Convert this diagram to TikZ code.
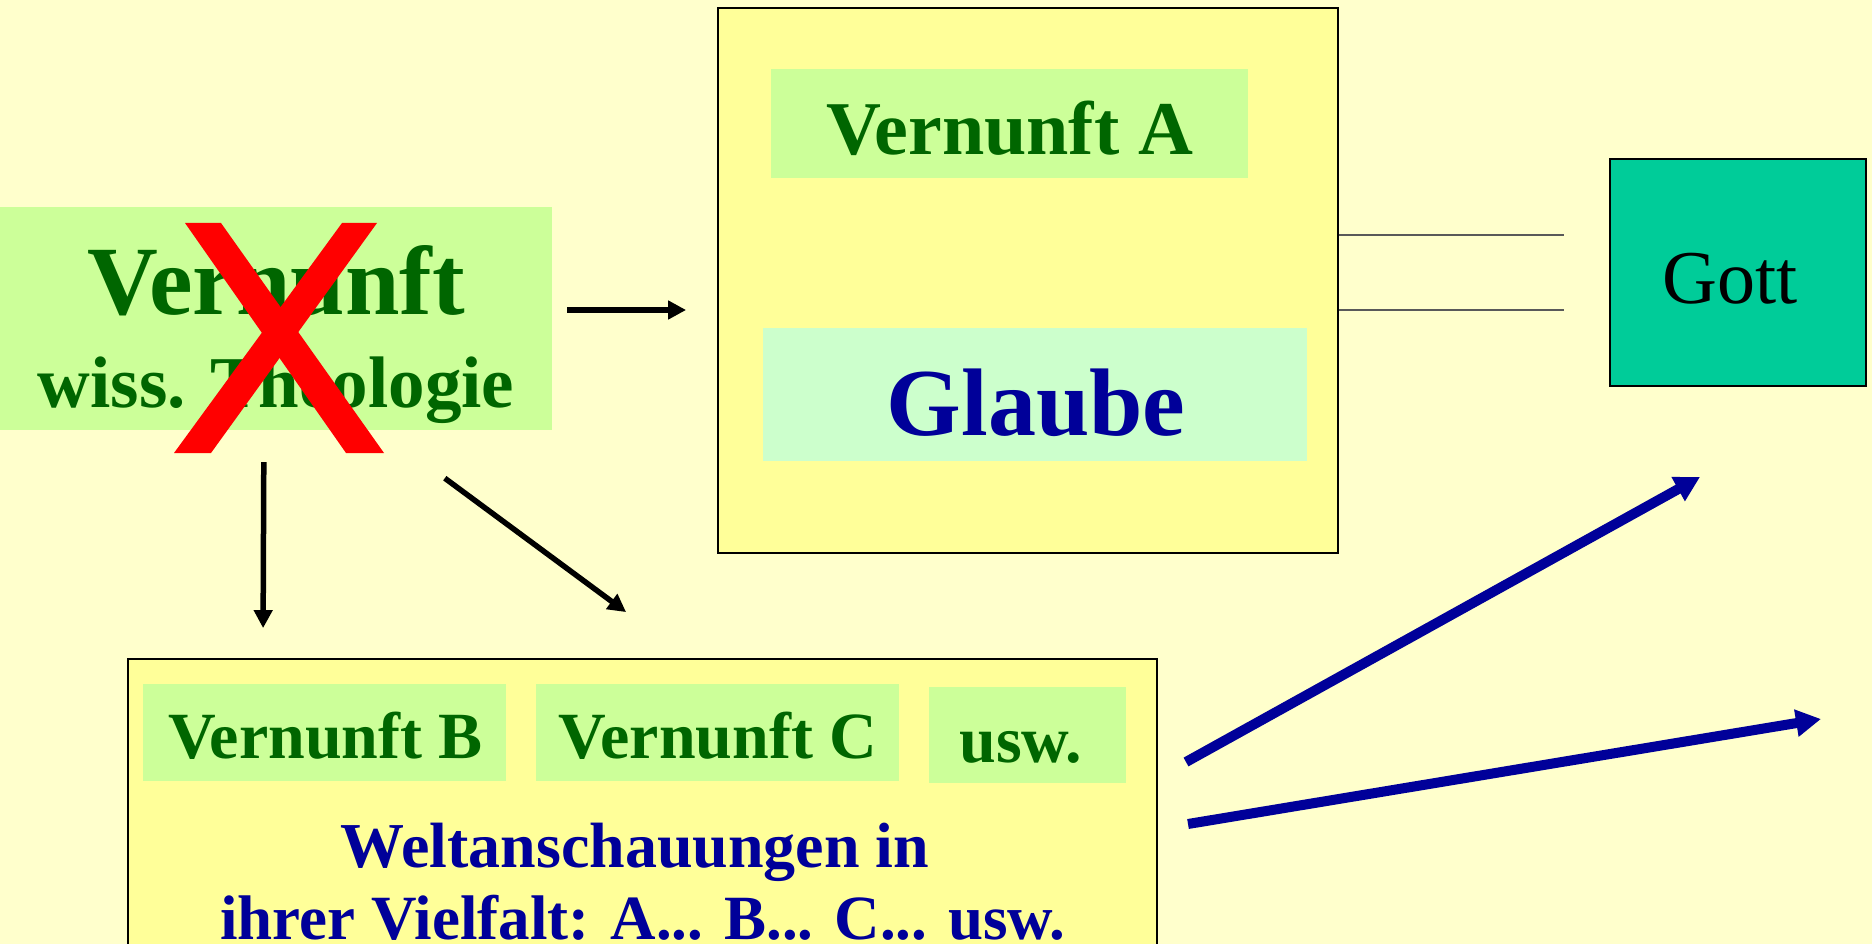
\documentclass[tikz,border=0pt]{standalone}
\usepackage{fontspec}
\setmainfont{Liberation Serif}
\usetikzlibrary{calc,arrows.meta}
\definecolor{slidebg}{HTML}{FFFFCC}
\definecolor{boxyellow}{HTML}{FFFF99}
\definecolor{reasongreen}{HTML}{CCFF99}
\definecolor{faithgreen}{HTML}{CCFFCC}
\definecolor{darkgreen}{HTML}{006600}
\definecolor{darkblue}{HTML}{000099}
\definecolor{godgreen}{HTML}{00CC99}

\begin{document}
\begin{tikzpicture}[x=1pt,y=-1pt,
    panel/.style={draw=black,line width=1.8pt,fill=boxyellow,inner sep=0pt},
    reason/.style={fill=reasongreen,inner sep=0pt},
    gtxt/.style={inner sep=0pt,anchor=base,text=darkgreen,font=\bfseries\fontsize{#1}{#1}\selectfont},
    btxt/.style={inner sep=0pt,anchor=base,text=darkblue,font=\bfseries\fontsize{#1}{#1}\selectfont},
    flow/.style={line width=5.5pt,-{Triangle[length=18pt,width=18pt]}},
    rise/.style={draw=darkblue,line width=10pt,-{Triangle[length=25pt,width=26pt]}}]
    \useasboundingbox (0,0) rectangle (1872,944);
    \clip (0,0) rectangle (1872,944);
    \fill[slidebg] (0,0) rectangle (1872,944);

    \node[reason,minimum width=552pt,minimum height=223pt] (vern) at (276,318.5) {};
    \node[gtxt=98] (verntxt) at (276,314) {Vernunft};
    \node[gtxt=73] (theo) at (276,407) {wiss. Theologie};
    \fill[red] (185,223) -- (221,223) -- (384,453) -- (346,453) -- cycle;
    \fill[red] (342,223) -- (377,223) -- (211,453) -- (174,453) -- cycle;

    \node[panel,minimum width=620pt,minimum height=545pt] (bigbox) at (1028,280.5) {};
    \node[reason,minimum width=477pt,minimum height=109pt] (verna) at (1009.5,123.5) {};
    \node[gtxt=76] (vernatxt) at (1010,155) {Vernunft A};
    \node[fill=faithgreen,inner sep=0pt,minimum width=544pt,minimum height=133pt] (glaube) at (1035,394.5) {};
    \node[btxt=96] (glaubetxt) at (1036,435) {Glaube};

    \node[draw=black,line width=1.8pt,fill=godgreen,minimum width=256pt,minimum height=227pt] (gott) at (1738,272.5) {};
    \node[inner sep=0pt,anchor=base,font=\fontsize{76}{76}\selectfont] (gotttxt) at (1730,303) {Gott};

    \node[panel,minimum width=1029pt,minimum height=341pt] (welt) at (642.5,829.5) {};
    \node[reason,minimum width=363pt,minimum height=97pt] (vernb) at (324.5,732.5) {};
    \node[gtxt=66] (vernbtxt) at (325.5,758) {Vernunft B};
    \node[reason,minimum width=363pt,minimum height=97pt] (vernc) at (717.5,732.5) {};
    \node[gtxt=66] (vernctxt) at (718,758) {Vernunft C};
    \node[reason,minimum width=197pt,minimum height=96pt] (usw) at (1027.5,735) {};
    \node[gtxt=66] (uswtxt) at (1021,762) {usw.};
    \node[btxt=64] (welt1) at (635,867) {Weltanschauungen in};
    \node[btxt=63] (welt2) at (643,939) {ihrer Vielfalt: A... B... C... usw.};

    \coordinate (l1) at (1564,235);
    \coordinate (l2) at (1564,310);
    \draw[line width=1.2pt,black!65] (l1 -| bigbox.east) -- (l1);
    \draw[line width=1.2pt,black!65] (l2 -| bigbox.east) -- (l2);

    \draw[flow] ($(vern.east)+(15,-8.5)$) -- ($(bigbox.west)+(-31,29.5)$);
    \draw[flow] ($(vern.south west)+(264,32)$) -- ($(welt.north west)+(136,-30)$);
    \draw[flow] ($(vern.south west)+(445,48)$) -- ($(welt.north west)+(499,-46)$);

    \coordinate (up0) at (1186,762);
    \coordinate (up1) at (1700,477);
    \coordinate (fw0) at (1188,824);
    \coordinate (fw1) at (1821,719);
    \draw[rise] (up0) -- (up1);
    \draw[rise] (fw0) -- (fw1);
\end{tikzpicture}
\end{document}
